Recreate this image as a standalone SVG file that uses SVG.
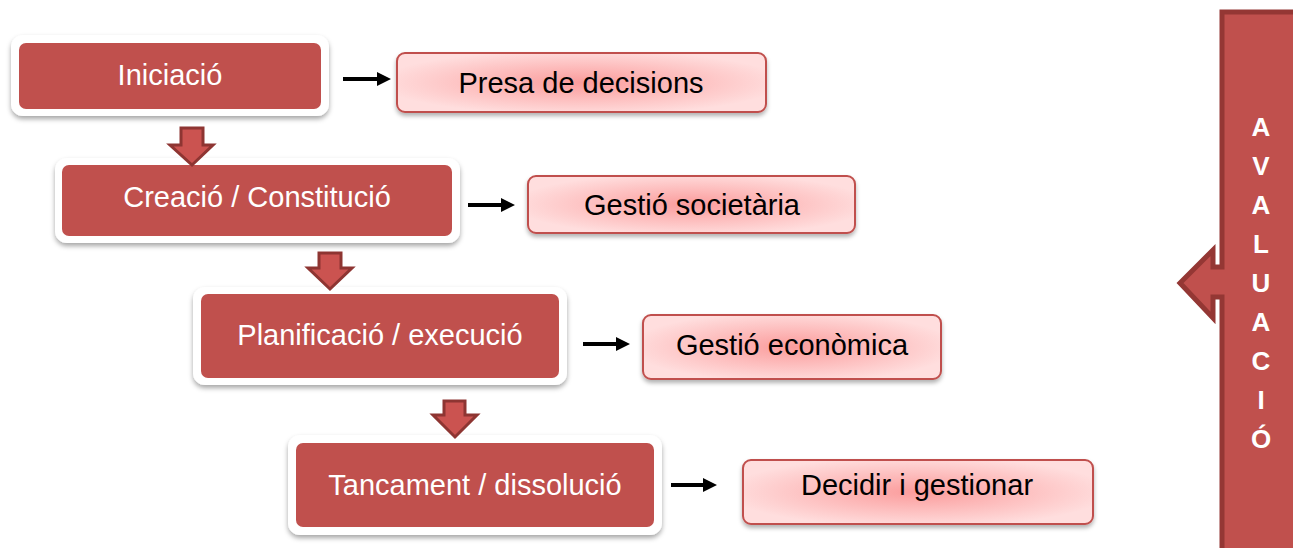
<svg xmlns="http://www.w3.org/2000/svg" width="1293" height="548" viewBox="0 0 1293 548">
<style>
.frame{fill:#fff;filter:url(#sh)}
.step{fill:#C0504D}
.steptxt{font-family:"Liberation Sans",Arial,sans-serif;font-size:29px;fill:#fff;text-anchor:middle}
.res{fill:url(#pink);stroke:#C0504D;stroke-width:2;filter:url(#sh2)}
.restxt{font-family:"Liberation Sans",Arial,sans-serif;font-size:29px;fill:#000;text-anchor:middle}
.down{fill:#CB5350;stroke:#8E3532;stroke-width:3;stroke-linejoin:miter}
.blk{fill:#000}
.ev{font-family:"Liberation Sans",Arial,sans-serif;font-size:26px;font-weight:bold;fill:#fff;text-anchor:middle}
</style>
<defs>
<filter id="sh" x="-10%" y="-20%" width="120%" height="150%">
<feDropShadow dx="0" dy="3" stdDeviation="2.5" flood-color="#000" flood-opacity="0.35"/>
</filter>
<filter id="sh2" x="-10%" y="-20%" width="120%" height="150%">
<feDropShadow dx="0" dy="3" stdDeviation="2" flood-color="#000" flood-opacity="0.3"/>
</filter>
<radialGradient id="pink" cx="0.5" cy="0.5" r="0.55">
<stop offset="0" stop-color="#FB9C9C"/>
<stop offset="1" stop-color="#FFDEDE"/>
</radialGradient>
</defs>
<rect width="1293" height="548" fill="#fff"/>

<g id="evaluacio">
<path d="M1222,12 H1300 V560 H1222 V297 H1213 V318 L1180,283 L1213,250 V267 H1222 Z" fill="#C0504D" stroke="#943734" stroke-width="5"/>
<text class="ev" x="1261" y="136">A</text>
<text class="ev" x="1261" y="175">V</text>
<text class="ev" x="1261" y="214">A</text>
<text class="ev" x="1261" y="253">L</text>
<text class="ev" x="1261" y="292">U</text>
<text class="ev" x="1261" y="331">A</text>
<text class="ev" x="1261" y="370">C</text>
<text class="ev" x="1261" y="409">I</text>
<text class="ev" x="1261" y="448">Ó</text>
</g>

<g id="iniciacio">
<rect class="frame" x="11" y="35" width="318" height="81" rx="12"/>
<rect class="step" x="19" y="43" width="302" height="66" rx="7"/>
<text class="steptxt" x="170" y="85">Iniciació</text>
</g>
<g id="creacio">
<rect class="frame" x="55" y="158" width="405" height="85" rx="12"/>
<rect class="step" x="62" y="165" width="390" height="71" rx="7"/>
<text class="steptxt" x="257" y="207">Creació / Constitució</text>
</g>
<g id="planificacio">
<rect class="frame" x="193" y="287" width="374" height="98" rx="12"/>
<rect class="step" x="201" y="294" width="358" height="84" rx="7"/>
<text class="steptxt" x="380" y="345">Planificació / execució</text>
</g>
<g id="tancament">
<rect class="frame" x="288" y="435" width="374" height="100" rx="12"/>
<rect class="step" x="296" y="443" width="358" height="84" rx="7"/>
<text class="steptxt" x="475" y="495">Tancament / dissolució</text>
</g>

<g id="presa">
<rect class="res" x="397" y="53" width="369" height="59" rx="8"/>
<text class="restxt" x="581" y="93">Presa de decisions</text>
</g>
<g id="societaria">
<rect class="res" x="528" y="176" width="327" height="57" rx="8"/>
<text class="restxt" x="692" y="215">Gestió societària</text>
</g>
<g id="economica">
<rect class="res" x="643" y="315" width="298" height="64" rx="8"/>
<text class="restxt" x="792" y="355">Gestió econòmica</text>
</g>
<g id="decidir">
<rect class="res" x="743" y="460" width="350" height="64" rx="8"/>
<text class="restxt" x="917" y="495">Decidir i gestionar</text>
</g>

<g id="connectors">
<path class="down" d="M181,128 H203 V145 H213 L192,165 L170,145 H181 Z"/>
<path class="down" d="M319,253 H341 V268 H352 L330,289 L308,268 H319 Z"/>
<path class="down" d="M444,401 H465 V415 H477 L455,437 L433,415 H444 Z"/>
<path class="blk" d="M343,77 H377 V72 L391,79 L377,86 V81 H343 Z"/>
<path class="blk" d="M468,203 H501 V198 L515,205 L501,212 V207 H468 Z"/>
<path class="blk" d="M583,342 H616 V337 L630,344 L616,351 V346 H583 Z"/>
<path class="blk" d="M671,483 H703 V478 L717,485 L703,492 V487 H671 Z"/>
</g>
</svg>
